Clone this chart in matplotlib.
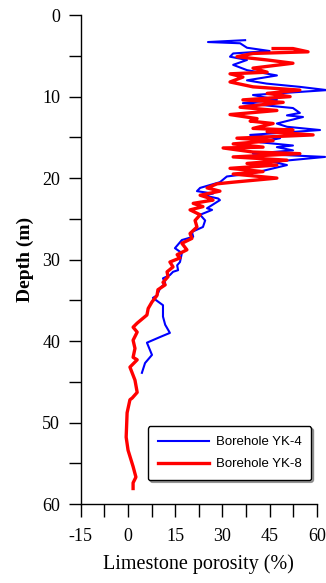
import numpy as np
import matplotlib
matplotlib.use("Agg")
import matplotlib.pyplot as plt
from matplotlib.ticker import MultipleLocator

plt.rcParams["axes.unicode_minus"] = False

# Borehole YK-4 : porosity (%) vs depth (m)
yk4_por = [37.2, 25.4, 35.6, 37.8, 45.0, 33.4, 32.4, 37.8, 33.4, 37.8, 47.3, 37.8, 44.0, 54.6, 63.2,
           39.7, 47.3, 36.5, 52.4, 54.6, 50.5, 55.6, 47.3, 50.5, 61.0, 38.8, 48.3, 41.9, 52.4, 47.3,
           52.4, 39.7, 62.6, 46.1, 50.5, 39.7, 31.4, 29.2, 22.9, 21.9, 27.0, 23.8, 28.6,
           29.2, 25.1, 26.7, 22.9, 24.5, 23.8, 20.3, 20.7, 17.1, 14.9, 17.1, 16.5, 15.6, 15.9, 14.3,
           13.3, 11.1, 11.8, 10.2, 9.2, 7.9, 11.1, 11.1, 11.8, 13.3, 10.2, 6.0, 7.6, 5.4, 4.4]
yk4_dep = [3.07, 3.3, 3.45, 4.0, 4.4, 4.7, 5.1, 5.5, 6.1, 6.75, 7.4, 8.0, 8.4, 8.8, 9.2,
           9.8, 10.4, 10.8, 11.4, 12.0, 12.3, 12.5, 13.3, 13.7, 14.1, 14.7, 15.1, 15.6, 16.0, 16.2,
           16.6, 17.0, 17.4, 18.0, 18.4, 19.4, 19.8, 20.5, 21.2, 21.6, 21.9, 22.1, 22.5,
           22.7, 23.7, 23.9, 24.5, 25.2, 26.0, 26.6, 27.2, 27.6, 28.6, 29.2, 30.3, 30.7, 31.3, 31.5,
           31.9, 32.3, 32.9, 33.5, 34.4, 34.7, 35.6, 37.0, 38.0, 39.0, 39.5, 40.2, 41.7, 42.7, 43.9]

# Borehole YK-8
yk8_por = [46.1, 52.4, 57.2, 39.7, 34.6, 44.2, 52.4, 39.7, 44.2, 32.4, 36.5, 32.4, 39.7, 54.6, 44.2,
           51.5, 36.5, 49.3, 35.6, 47.3, 32.4, 41.0, 38.8, 46.1, 39.7, 52.4, 44.2, 58.8, 34.6, 46.1,
           33.4, 42.9, 30.2, 39.7, 54.6, 33.4, 50.5, 37.8, 47.3, 32.4, 42.9, 33.4, 47.3, 33.4, 28.3,
           25.1, 29.2, 22.9, 26.1, 27.0, 20.7, 23.8, 19.7, 22.9, 21.3, 21.9, 19.7, 20.3, 17.1, 18.7,
           15.6, 16.5, 13.3, 14.3, 12.4, 12.7, 11.1, 11.8, 9.5, 9.2, 7.6, 6.4, 6.0, 2.9, 1.6,
           2.9, 1.6, 2.2, 1.6, 2.9, 0.6, 1.3, 2.2, 2.9, 1.3, 0.6, -0.3, -0.6, 0.0, 1.6,
           2.5, 1.6, 1.6]
yk8_dep = [4.1, 4.1, 4.5, 4.7, 5.1, 5.5, 5.9, 6.5, 7.0, 7.2, 7.6, 8.2, 8.8, 9.2, 9.6,
           10.0, 10.4, 10.7, 11.3, 11.7, 12.2, 12.7, 13.0, 13.3, 13.9, 14.1, 14.3, 14.7, 15.1, 15.4,
           15.8, 16.2, 16.3, 16.8, 17.0, 17.4, 17.8, 18.2, 18.4, 18.8, 19.2, 19.5, 20.0, 20.5, 20.7,
           21.2, 21.6, 22.1, 22.5, 22.7, 23.1, 23.5, 23.9, 24.5, 25.2, 26.0, 26.8, 27.4, 28.0, 28.8,
           29.4, 29.8, 30.3, 30.9, 31.5, 32.1, 32.8, 33.1, 33.7, 34.4, 35.2, 36.0, 36.8, 37.8, 38.3,
           38.9, 39.9, 40.9, 42.0, 42.3, 43.2, 43.9, 44.8, 46.3, 47.0, 47.2, 48.8, 51.8, 53.4, 55.4,
           56.7, 57.4, 58.1]

serif = "Liberation Serif"

fig = plt.figure(figsize=(3.26, 5.83), dpi=100)
ax = fig.add_axes([0.248, 0.1355, 0.724, 0.8385])

ax.plot(yk4_por, yk4_dep, color="#0000ff", lw=1.5, label="Borehole YK-4", clip_on=False)
ax.plot(yk8_por, yk8_dep, color="#ff0000", lw=2.4, label="Borehole YK-8", clip_on=False)

ax.set_xlim(-15, 60)
ax.set_ylim(60, 0)
ax.xaxis.set_major_locator(MultipleLocator(15))
ax.xaxis.set_minor_locator(MultipleLocator(7.5))
ax.yaxis.set_major_locator(MultipleLocator(10))
ax.yaxis.set_minor_locator(MultipleLocator(5))

for s in ["top", "right"]:
    ax.spines[s].set_visible(False)
for s in ["left", "bottom"]:
    ax.spines[s].set_linewidth(1.0)

ax.tick_params(which="both", direction="out", length=9, width=1.0)
ax.tick_params(axis="y", pad=6)
ax.tick_params(axis="x", pad=8)
for lab in ax.get_xticklabels() + ax.get_yticklabels():
    lab.set_fontfamily(serif)
    lab.set_fontsize(13)

ax.set_xlabel("Limestone porosity (%)", fontfamily=serif, fontsize=14.5, labelpad=7)
ax.set_ylabel("Depth (m)", fontfamily=serif, fontsize=14, fontweight="bold", labelpad=6)

leg = ax.legend(loc="lower right", bbox_to_anchor=(1.005, 0.035), fancybox=True,
                shadow={"ox": 1.5, "oy": -1.5, "color": "0.3"},
                prop={"family": "Liberation Sans", "size": 9.5}, handlelength=3.9,
                borderpad=0.75, labelspacing=0.75, handletextpad=0.5, framealpha=1)
leg.get_frame().set_edgecolor("black")
leg.get_frame().set_linewidth(1.0)

plt.savefig("out.png", dpi=100)
